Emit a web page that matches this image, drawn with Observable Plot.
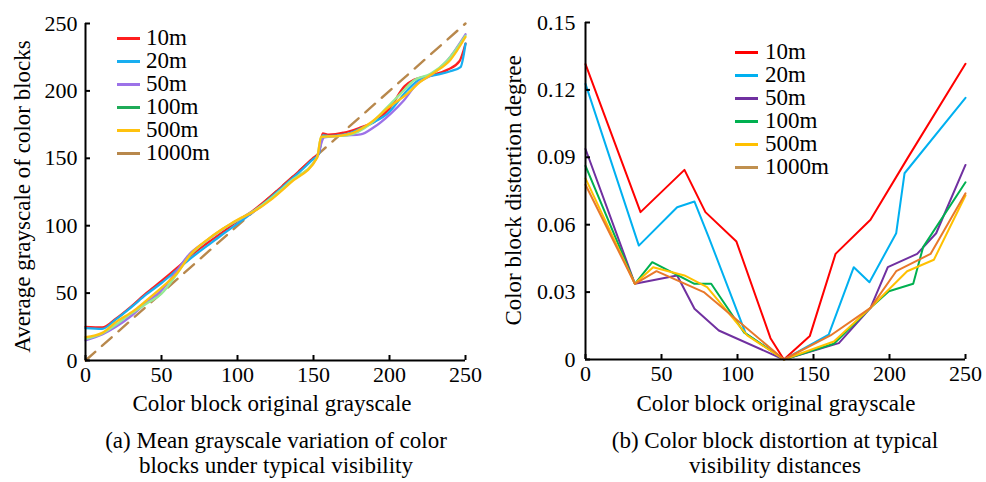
<!DOCTYPE html>
<html><head><meta charset="utf-8">
<script src="https://cdn.jsdelivr.net/npm/d3@7"></script>
<script src="https://cdn.jsdelivr.net/npm/@observablehq/plot@0.6"></script>
<style>
html,body{margin:0;padding:0;background:#fff;}
#root{position:relative;width:986px;height:482px;overflow:hidden;font-family:"Liberation Serif","Times New Roman",serif;color:#000;}
.panel{position:absolute;top:0;width:493px;height:420px;}
.txt{position:absolute;font-size:23px;line-height:25px;white-space:nowrap;text-align:center;}
.leg{position:absolute;font-size:23px;line-height:23px;white-space:nowrap;}
.sw{position:absolute;height:2.5px;width:23px;}
</style></head><body><div id="root"></div>
<script>
const seriesNames = ["10m", "20m", "50m", "100m", "500m", "1000m"];
const axisTicksX = [0, 50, 100, 150, 200, 250];
const grayTicksY = [0, 50, 100, 150, 200, 250];
const distTicksY = [0, 0.03, 0.06, 0.09, 0.12, 0.15];

// (a) mean grayscale
const gray10X = [0, 11, 20, 30, 40, 50, 60, 70, 80, 90, 100, 110, 120, 130, 140, 150, 153.5, 156, 160, 170, 180, 190, 200, 210, 216, 227, 238, 246, 250];
const gray10Y = [25, 24.5, 31, 40, 50, 59, 68.5, 78.5, 87, 95, 103.5, 111, 120, 130, 140, 150.5, 154, 168.5, 167.5, 169, 172.5, 177, 187, 203.5, 208.2, 211.4, 215.6, 222, 235];
const gray20X = [0, 11, 20, 30, 40, 50, 60, 70, 80, 90, 100, 110, 120, 130, 140, 150, 153.5, 156, 160, 170, 181, 190, 198.5, 211.6, 220.4, 231.4, 240, 246.7, 250];
const gray20Y = [24, 23.5, 30.5, 39.5, 49, 57.5, 67, 76.5, 85, 93.5, 101.5, 110, 119, 129, 139, 149.5, 153, 167, 166.5, 167.5, 172, 177, 183, 200.3, 209, 212, 214.6, 217.6, 235];
const gray50X = [0, 11, 20, 30, 40, 50, 60, 68, 78, 89, 100, 110, 121.7, 135, 152.4, 157, 165, 172, 181, 189.7, 200.7, 209.4, 218.2, 227, 238, 250];
const gray50Y = [15, 19.3, 25, 33, 43, 52, 66.5, 78.5, 87.5, 96.5, 104, 110, 119.5, 132.5, 151, 165.5, 166.5, 167, 167.7, 173, 183, 192.9, 205.3, 211.4, 222.5, 242];
const gray100X = [0, 11, 20, 29.6, 40, 50, 60, 68, 78, 89, 100, 110, 121.7, 135, 152.4, 155, 165, 172, 187.5, 198.5, 207.2, 216, 227, 238, 250];
const gray100Y = [16, 20, 26.5, 34.6, 42, 49.5, 64, 77, 87.5, 96.5, 104, 110.5, 120, 133, 151, 165.7, 166.5, 167, 175.6, 188, 197.8, 207.7, 212.7, 222.5, 241];
const gray500X = [0, 11, 20, 31.8, 40, 51, 60, 70, 80, 90, 100, 110, 121.7, 135, 152.4, 155, 165, 175, 188, 198.5, 211.6, 220, 230, 240, 250];
const gray500Y = [17.3, 20.5, 28.5, 37, 44.5, 55, 64.5, 80, 89.5, 97.5, 104.5, 110, 119, 132, 150.5, 166, 166.5, 168.5, 176.8, 187, 197.8, 206.5, 214, 223, 240];
const gray1000X = [0, 250];
const gray1000Y = [0, 250];

// (b) distortion degree
const dist10X = [0, 36.2, 65.1, 78.9, 99.3, 121.7, 130.5, 147.6, 164.5, 187.5, 211.6, 250];
const dist10Y = [0.1315, 0.0656, 0.0844, 0.0656, 0.0525, 0.0095, 0, 0.0105, 0.047, 0.0622, 0.0893, 0.1316];
const dist20X = [0, 35.1, 60.3, 71.7, 81.1, 105.3, 130.5, 160, 176.5, 186.8, 204.4, 209.9, 250];
const dist20Y = [0.1227, 0.0507, 0.0678, 0.0703, 0.0544, 0.0117, 0, 0.0111, 0.0411, 0.0344, 0.0562, 0.0829, 0.1165];
const dist50X = [0, 32.5, 60.3, 71.7, 87.7, 130.5, 166.7, 187.5, 198.9, 218.2, 230.7, 250];
const dist50Y = [0.0937, 0.0337, 0.0374, 0.0226, 0.0129, 0, 0.0073, 0.023, 0.0411, 0.047, 0.0562, 0.0866];
const dist100X = [0, 32.5, 43.9, 71.7, 82.7, 104.2, 130.5, 163.4, 187.5, 199.6, 215.6, 222.1, 250];
const dist100Y = [0.0862, 0.0337, 0.0433, 0.0337, 0.0337, 0.0121, 0, 0.007, 0.023, 0.0304, 0.0337, 0.05, 0.0789];
const dist500X = [0, 32.5, 44.5, 65.1, 80, 106.4, 130.5, 163.4, 187.5, 211.6, 229.2, 250];
const dist500Y = [0.0806, 0.0337, 0.0411, 0.0374, 0.0322, 0.0107, 0, 0.008, 0.023, 0.0393, 0.0444, 0.073];
const dist1000X = [0, 32.5, 46.7, 77.8, 130.5, 161.2, 187.5, 204.4, 227, 250];
const dist1000Y = [0.0778, 0.0337, 0.0393, 0.03, 0, 0.0107, 0.023, 0.0393, 0.047, 0.074];

const leftLineColors = ["#ff1f1f", "#18aef0", "#9c72e8", "#94ea94", "#ffc20e", "#b8884c"];
const leftLegendColors = ["#ff1f1f", "#18aef0", "#9c72e8", "#1fab58", "#ffc20e", "#b8884c"];
const rightLineColors = ["#ff0000", "#00b0f0", "#7030a0", "#00b050", "#ffc000", "#e8782a"];
const rightLegendColors = ["#ff0000", "#00b0f0", "#7030a0", "#00b050", "#ffc000", "#c0904f"];

function tidy(xs, ys) {
  const rows = [];
  xs.forEach((xv, k) => xv.forEach((x, i) => rows.push({series: seriesNames[k], x, y: ys[k][i]})));
  return rows;
}
const grayData = tidy([gray10X, gray20X, gray50X, gray100X, gray500X], [gray10Y, gray20Y, gray50Y, gray100Y, gray500Y]);
const grayRef = gray1000X.map((x, i) => ({series: "1000m", x, y: gray1000Y[i]}));
const distData = tidy([dist10X, dist20X, dist50X, dist100X, dist500X, dist1000X], [dist10Y, dist20Y, dist50Y, dist100Y, dist500Y, dist1000Y]);

const baseStyle = {fontFamily: '"Liberation Serif","Times New Roman",serif', fontSize: "22px", color: "#000", background: "transparent", overflow: "visible"};

const leftPlot = Plot.plot({
  width: 493, height: 420, marginLeft: 85, marginRight: 28, marginTop: 23, marginBottom: 60,
  style: baseStyle,
  x: {domain: [0, 250], label: null},
  y: {domain: [0, 250], label: null},
  color: {domain: seriesNames, range: leftLineColors},
  marks: [
    Plot.line(grayRef, {x: "x", y: "y", stroke: "series", strokeWidth: 2.4, strokeDasharray: "13,9"}),
    Plot.line(grayData, {x: "x", y: "y", z: "series", stroke: "series", strokeWidth: 2.3, curve: "monotone-x"}),
    Plot.axisX(axisTicksX, {tickSize: -5, tickPadding: 11, strokeWidth: 2, label: null, tickFormat: d => String(d)}),
    Plot.axisY(grayTicksY, {tickSize: -5, tickPadding: 13, strokeWidth: 2, label: null, tickFormat: d => String(d)}),
    Plot.ruleX([0], {strokeWidth: 2}),
    Plot.ruleY([0], {strokeWidth: 2})
  ]
});

const rightPlot = Plot.plot({
  width: 493, height: 420, marginLeft: 92, marginRight: 21, marginTop: 22, marginBottom: 61,
  style: baseStyle,
  x: {domain: [0, 250], label: null},
  y: {domain: [0, 0.15], label: null},
  color: {domain: seriesNames, range: rightLineColors},
  marks: [
    Plot.line(distData, {x: "x", y: "y", z: "series", stroke: "series", strokeWidth: 2}),
    Plot.axisX(axisTicksX, {tickSize: -5, tickPadding: 11, strokeWidth: 2, label: null, tickFormat: d => String(d)}),
    Plot.axisY(distTicksY, {tickSize: -5, tickPadding: 15, strokeWidth: 2, label: null, tickFormat: d => d === 0 ? "0" : d.toFixed(2)}),
    Plot.ruleX([0], {strokeWidth: 2}),
    Plot.ruleY([0], {strokeWidth: 2})
  ]
});

const root = document.getElementById("root");
function panel(node, left) {
  const d = document.createElement("div");
  d.className = "panel";
  d.style.left = left + "px";
  d.appendChild(node);
  root.appendChild(d);
}
panel(leftPlot, 0);
panel(rightPlot, 493);

function text(str, cx, top, cls = "txt") {
  const d = document.createElement("div");
  d.className = cls;
  d.textContent = str;
  d.style.left = (cx - 300) + "px";
  d.style.width = "600px";
  d.style.top = top + "px";
  root.appendChild(d);
  return d;
}
function vtext(str, cx, cy) {
  const d = text(str, cx, cy - 12.5);
  d.style.transform = "rotate(-90deg)";
  d.style.transformOrigin = "50% 50%";
}

text("Color block original grayscale", 272, 391);
text("(a) Mean grayscale variation of color", 276, 428);
text("blocks under typical visibility", 276, 453);
text("Color block original grayscale", 776, 391);
text("(b) Color block distortion at typical", 775, 428);
text("visibility distances", 775, 453);
vtext("Average grayscale of color blocks", 22, 196);
vtext("Color block distortion degree", 513, 190);

function legend(colors, swLeft, textLeft, firstY) {
  seriesNames.forEach((name, i) => {
    const y = firstY + i * 23;
    const s = document.createElement("div");
    s.className = "sw";
    s.style.left = swLeft + "px";
    s.style.top = (y - 1.25) + "px";
    s.style.background = colors[i];
    root.appendChild(s);
    const t = document.createElement("div");
    t.className = "leg";
    t.textContent = name;
    t.style.left = textLeft + "px";
    t.style.top = (y - 12.5) + "px";
    root.appendChild(t);
  });
}
legend(leftLegendColors, 117, 146, 38.3);
legend(rightLegendColors, 735, 765, 52.3);
</script>
</body></html>
